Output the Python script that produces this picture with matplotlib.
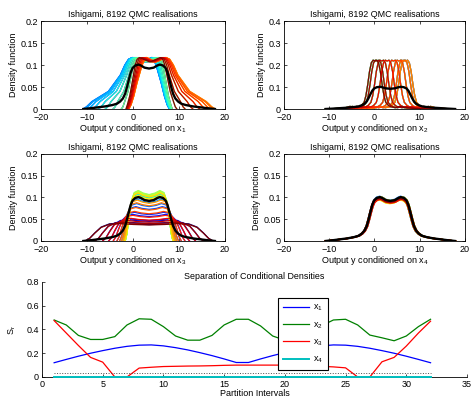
import matplotlib
matplotlib.use('Agg')
import matplotlib.pyplot as plt
import numpy as np

plt.rcParams['font.family'] = ['Liberation Sans', 'DejaVu Sans']
plt.rcParams['mathtext.fontset'] = 'custom'
plt.rcParams['mathtext.rm'] = 'Liberation Sans'
plt.rcParams['mathtext.it'] = 'Liberation Sans:italic'
plt.rcParams['font.size'] = 6.5

# unconditional output density (black curve, same in all four panels)
black_x = [-10.8, -9.0, -7.5, -6.0, -4.5, -3.5, -2.8, -2.2, -1.7, -1.3, -0.9, -0.5, -0.1,
           0.5, 1.2, 1.7, 2.5, 3.5, 4.5, 5.3, 5.8, 6.5, 7.1, 7.5, 7.9, 8.3, 8.7, 9.2,
           9.8, 10.5, 11.5, 13.0, 14.5, 16.0, 17.8]
black_y = [0, 0.002, 0.004, 0.006, 0.009, 0.012, 0.017, 0.024, 0.035, 0.05, 0.067, 0.083, 0.093,
           0.099, 0.101, 0.099, 0.094, 0.092, 0.094, 0.099, 0.101, 0.099, 0.093, 0.083, 0.067, 0.05,
           0.035, 0.024, 0.017, 0.012, 0.009, 0.006, 0.004, 0.002, 0]

# x1 panel: shape of an unshifted density and of the most left-shifted one (same heights)
p1_y = [0, 0.005, 0.017, 0.04, 0.077, 0.1, 0.113, 0.117, 0.107, 0.117, 0.113, 0.1, 0.06, 0.03, 0.01, 0]
p1_x_mid = [-1.6, -1.3, -1.0, -0.6, -0.1, 0.3, 0.7, 1.2, 3.5, 5.8, 6.3, 6.7, 7.3, 7.8, 8.3, 8.6]
p1_x_left = [-11.0, -10.2, -9.0, -5.4, -2.8, -1.8, -1.0, -0.2, 2.0, 4.0, 4.4, 5.0, 6.1, 6.8, 7.4, 7.9]
# shift of each of the 32 partitions (negative = towards the left)
p1_shift = [-0.10, -0.29, -0.47, -0.63, -0.77, -0.88, -0.96, -0.99,
            -0.99, -0.96, -0.88, -0.77, -0.63, -0.47, -0.29, -0.10,
            0.10, 0.29, 0.47, 0.63, 0.77, 0.88, 0.96, 0.99,
            0.99, 0.96, 0.88, 0.77, 0.63, 0.47, 0.29, 0.10]

# x2 panel: one peaked shape, centred on each partition's value
p2_dx = [-11, -9, -6.5, -5.5, -4.5, -3.5, -3.0, -2.4, -2.0, -1.6, -1.2, -0.8, -0.4, 0,
         0.4, 0.8, 1.2, 1.6, 2.0, 2.4, 3.0, 3.5, 4.5, 5.5, 6.5, 9, 11]
p2_y = [0, 0.002, 0.006, 0.012, 0.006, 0.01, 0.016, 0.03, 0.06, 0.11, 0.17, 0.21, 0.222, 0.218,
        0.222, 0.21, 0.17, 0.11, 0.06, 0.03, 0.016, 0.01, 0.006, 0.012, 0.006, 0.002, 0]
p2_centre = [0.1, 0.6, 1.6, 2.8, 4.2, 5.4, 6.4, 6.9, 6.9, 6.4, 5.4, 4.2, 2.8, 1.6, 0.6, 0.1,
             0.1, 0.6, 1.6, 2.8, 4.2, 5.4, 6.4, 6.9, 6.9, 6.4, 5.4, 4.2, 2.8, 1.6, 0.6, 0.1]

# x3 panel: symmetric shape around 3.5, half-width and height per partition
p3_tx = [-1, -0.93, -0.85, -0.75, -0.62, -0.45, -0.25, 0, 0.25, 0.45, 0.62, 0.75, 0.85, 0.93, 1]
p3_ty = [0, 0.15, 0.45, 0.78, 0.96, 1.0, 0.95, 0.92, 0.95, 1.0, 0.96, 0.78, 0.45, 0.15, 0]
p3_halfwidth = [13.9, 11.8, 10.1, 8.8, 7.8, 7.0, 6.4, 6.0, 5.7, 5.5, 5.3, 5.3, 5.2, 5.2, 5.2, 5.2,
                5.2, 5.2, 5.2, 5.2, 5.3, 5.3, 5.5, 5.7, 6.0, 6.4, 7.0, 7.8, 8.8, 10.1, 11.8, 13.9]
p3_height = [0.041, 0.044, 0.049, 0.051, 0.061, 0.066, 0.079, 0.086, 0.096, 0.100, 0.107, 0.108,
             0.112, 0.112, 0.115, 0.113,
             0.114, 0.116, 0.113, 0.111, 0.105, 0.110, 0.102, 0.094, 0.088, 0.077, 0.068, 0.059,
             0.052, 0.047, 0.043, 0.040]

# x4 panel: every partition close to the unconditional density
p4_scale = [0.97, 0.99, 1.01, 0.96, 0.98, 1.0, 0.95, 0.99, 1.02, 0.97, 0.96, 1.0, 0.98, 0.94, 1.01, 0.97,
            0.99, 0.95, 1.0, 0.97, 0.93, 0.98, 1.01, 0.96, 0.99, 0.94, 0.97, 1.0, 0.95, 0.98, 0.96, 0.99]
p4_shift = [0.2, -0.1, 0.1, -0.2, 0.0, 0.15, -0.15, 0.05, -0.05, 0.2, -0.2, 0.1, 0.0, -0.1, 0.15, -0.05,
            0.1, -0.15, 0.05, 0.2, -0.1, 0.0, 0.15, -0.2, 0.05, -0.05, 0.1, -0.1, 0.2, 0.0, -0.15, 0.1]

# separation of conditional densities
partition = list(range(1, 33))
s_x1 = [0.12, 0.148, 0.175, 0.2, 0.222, 0.242, 0.258, 0.268, 0.27, 0.262, 0.247, 0.228, 0.205, 0.18,
        0.152, 0.122, 0.122, 0.152, 0.18, 0.205, 0.228, 0.247, 0.262, 0.27, 0.268, 0.258, 0.242,
        0.222, 0.2, 0.175, 0.148, 0.12]
s_x2 = [0.48, 0.438, 0.35, 0.316, 0.316, 0.34, 0.438, 0.49, 0.486, 0.424, 0.345, 0.31, 0.31, 0.35,
        0.438, 0.486, 0.486, 0.43, 0.345, 0.31, 0.31, 0.345, 0.43, 0.48, 0.486, 0.438, 0.353, 0.33,
        0.305, 0.345, 0.424, 0.486]
s_x3 = [0.475, 0.37, 0.265, 0.165, 0.125, 0, 0, 0.075, 0.082, 0.088, 0.09, 0.092, 0.093, 0.095,
        0.098, 0.1, 0.1, 0.1, 0.1, 0.1, 0.097, 0.094, 0.09, 0.085, 0.077, 0, 0, 0.128, 0.165, 0.26,
        0.37, 0.47]
s_x4 = [0, 0, 0, 0, 0, 0, 0, 0, 0, 0, 0, 0, 0, 0, 0, 0,
        0, 0, 0, 0, 0, 0, 0, 0, 0, 0, 0, 0, 0, 0, 0, 0]
threshold = 0.037

colors = plt.cm.jet(np.linspace(0, 1, 32))

fig = plt.figure(figsize=(4.75, 3.98), dpi=100)
ax1 = fig.add_axes([0.0863, 0.7261, 0.3874, 0.2211])
ax2 = fig.add_axes([0.5979, 0.7261, 0.381, 0.2211])
ax3 = fig.add_axes([0.0863, 0.3945, 0.3874, 0.2186])
ax4 = fig.add_axes([0.5979, 0.3945, 0.381, 0.2186])
ax5 = fig.add_axes([0.0884, 0.0528, 0.8947, 0.2387])

lw_c = 0.9
lw_b = 1.7
title_size = 6.4

# panel x1
xm = np.array(p1_x_mid)
xl = np.array(p1_x_left)
for i, s in enumerate(p1_shift):
    xs = xm + abs(s) * (xl - xm)
    if s > 0:
        xs = 7.0 - xs
    ax1.plot(xs, p1_y, color=colors[i], lw=lw_c)

# panel x2
for i, c in enumerate(p2_centre):
    ax2.plot(np.array(p2_dx) + c, p2_y, color=colors[i], lw=lw_c)

# panel x3
for i in range(32):
    ax3.plot(3.5 + p3_halfwidth[i] * np.array(p3_tx), p3_height[i] * np.array(p3_ty),
             color=colors[i], lw=lw_c)

# panel x4
for i in range(32):
    ax4.plot(np.array(black_x) + p4_shift[i], p4_scale[i] * np.array(black_y),
             color=colors[i], lw=lw_c)

for k, ax in enumerate([ax1, ax2, ax3, ax4]):
    ax.plot(black_x, black_y, color='black', lw=lw_b)
    ax.set_xlim(-20, 20)
    ax.set_xticks([-20, -10, 0, 10, 20])
    if ax is ax2:
        ax.set_ylim(0, 0.4)
        ax.set_yticks([0, 0.1, 0.2, 0.3, 0.4])
        ax.set_yticklabels(['0', '0.1', '0.2', '0.3', '0.4'])
    else:
        ax.set_ylim(0, 0.2)
        ax.set_yticks([0, 0.05, 0.1, 0.15, 0.2])
        ax.set_yticklabels(['0', '0.05', '0.1', '0.15', '0.2'])
    ax.tick_params(direction='in', length=2, width=0.5, top=True, right=True)
    ax.tick_params(axis='x', pad=3.2)
    ax.tick_params(axis='y', pad=2.3)
    for sp in ax.spines.values():
        sp.set_linewidth(0.6)
    ax.set_title('Ishigami, 8192 QMC realisations', pad=3.2, fontsize=title_size)
    ax.set_xlabel('Output y conditioned on x$_{\\mathregular{%d}}$' % (k + 1), labelpad=0)
    ax.set_ylabel('Density function', labelpad=1.5)

# separation plot
ax5.plot(partition, s_x1, color='blue', lw=0.9, label='x$_{\\mathregular{1}}$')
ax5.plot(partition, s_x2, color=(0, 0.5, 0), lw=0.9, label='x$_{\\mathregular{2}}$')
ax5.plot(partition, s_x3, color='red', lw=0.9, label='x$_{\\mathregular{3}}$')
ax5.plot(partition, s_x4, color=(0, 0.75, 0.75), lw=1.4, label='x$_{\\mathregular{4}}$',
         clip_on=False, zorder=4)
ax5.plot([partition[0], partition[-1]], [threshold, threshold], color='0.3', lw=0.7, ls=':')
ax5.set_xlim(0, 35)
ax5.set_ylim(0, 0.8)
ax5.set_xticks([0, 5, 10, 15, 20, 25, 30, 35])
ax5.set_yticks([0, 0.2, 0.4, 0.6, 0.8])
ax5.set_yticklabels(['0', '0.2', '0.4', '0.6', '0.8'])
ax5.spines['top'].set_visible(False)
ax5.spines['right'].set_visible(False)
for sp in ax5.spines.values():
    sp.set_linewidth(0.6)
ax5.tick_params(direction='in', length=2, width=0.5)
ax5.tick_params(axis='x', pad=2.3)
ax5.tick_params(axis='y', pad=2.3)
ax5.set_title('Separation of Conditional Densities', pad=2.5, fontsize=title_size)
ax5.set_xlabel('Partition Intervals', labelpad=0)
ax5.set_ylabel('S$_{\\mathregular{r}}$', labelpad=6)
leg = ax5.legend(loc='upper left', bbox_to_anchor=(0.556, 0.832), frameon=True, fancybox=False,
                 edgecolor='black', framealpha=1, labelspacing=0.75, handlelength=2.9,
                 borderpad=0.55, handletextpad=0.4, borderaxespad=0)
leg.get_frame().set_linewidth(0.8)

fig.savefig('out.png', dpi=100)
